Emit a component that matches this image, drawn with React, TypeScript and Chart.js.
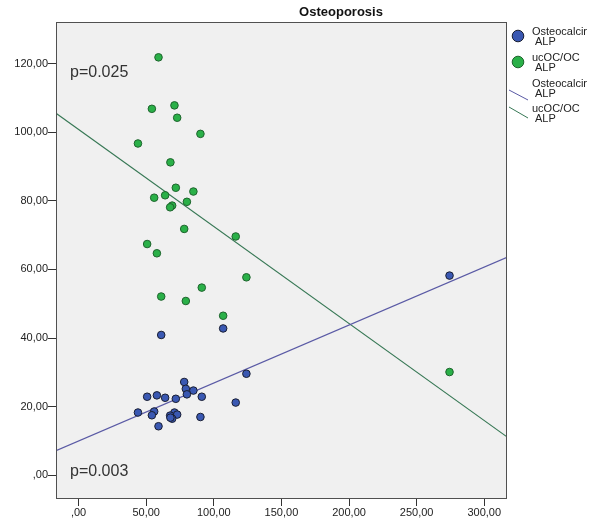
import React, { useEffect, useRef } from "react";
import { Chart, registerables } from "chart.js";

Chart.register(...registerables);

const TITLE = "Osteoporosis";
const P_TOP = "p=0.025";
const P_BOTTOM = "p=0.003";

const blueLabel = ["Osteocalcin", "ALP"];
const greenLabel = ["ucOC/OC", "ALP"];

const blueX = [61.1, 106.9, 124.1, 78.1, 79.3, 84.9, 80.1, 50.7, 57.9, 64.0, 71.9, 91.1, 116.2, 43.9, 55.9, 54.2, 70.9, 72.9, 67.7, 69.2, 90.1, 59.1, 274.3, 67.9];
const blueY = [40.9, 42.8, 29.6, 27.2, 25.2, 24.7, 23.6, 22.9, 23.3, 22.6, 22.3, 22.9, 21.2, 18.3, 18.6, 17.5, 18.3, 17.7, 17.4, 16.5, 17.0, 14.3, 58.2, 16.8];

const greenX = [59.1, 54.2, 70.9, 72.9, 90.1, 43.9, 67.9, 71.9, 84.9, 64.0, 55.9, 80.1, 69.2, 67.7, 78.1, 116.2, 50.7, 57.9, 124.1, 91.1, 61.1, 79.3, 106.9, 274.3];
const greenY = [121.8, 106.8, 107.8, 104.2, 99.5, 96.7, 91.2, 83.8, 82.7, 81.6, 80.9, 79.7, 78.6, 78.1, 71.8, 69.6, 67.4, 64.7, 57.7, 54.7, 52.1, 50.8, 46.5, 30.1];

const fitX = [-16.7, 316.8];
const blueFitY = [7.2, 63.5];
const greenFitY = [105.5, 11.2];

const xTicks = [0, 50, 100, 150, 200, 250, 300];
const yTicks = [0, 20, 40, 60, 80, 100, 120];

const X_MIN = -16.7;
const X_MAX = 316.8;
const Y_MIN = -6.9;
const Y_MAX = 132.1;

const BLUE = "rgb(58,88,178)";
const BLUE_EDGE = "rgb(25,30,50)";
const GREEN = "rgb(42,176,72)";
const GREEN_EDGE = "rgb(30,100,45)";
const BLUE_LINE = "rgb(90,90,165)";
const GREEN_LINE = "rgb(55,120,85)";
const FONT = "'Liberation Sans', Arial, sans-serif";

const fmt = (v: number) => (v === 0 ? ",00" : v.toFixed(2).replace(".", ","));

const zip = (xs: number[], ys: number[]) => xs.map((x, i) => ({ x, y: ys[i] }));

const decorPlugin = {
  id: "decor",
  beforeDraw(chart: any) {
    const { ctx, chartArea: a } = chart;
    ctx.save();
    ctx.fillStyle = "#ffffff";
    ctx.fillRect(0, 0, chart.width, chart.height);
    ctx.fillStyle = "#f0f0f0";
    ctx.fillRect(a.left, a.top, a.right - a.left, a.bottom - a.top);
    ctx.restore();
  },
  afterDraw(chart: any) {
    const { ctx, chartArea: a } = chart;
    ctx.save();
    ctx.strokeStyle = "#505050";
    ctx.lineWidth = 1;
    ctx.strokeRect(Math.round(a.left) + 0.5, Math.round(a.top) + 0.5, Math.round(a.right - a.left) - 1, Math.round(a.bottom - a.top) - 1);

    // title
    ctx.fillStyle = "#111";
    ctx.font = `bold 13px ${FONT}`;
    ctx.textAlign = "center";
    ctx.textBaseline = "middle";
    ctx.fillText(TITLE, 341, 12);

    // p values
    ctx.fillStyle = "#333";
    ctx.font = `16px ${FONT}`;
    ctx.textAlign = "left";
    ctx.fillText(P_TOP, 70, 73);
    ctx.fillText(P_BOTTOM, 70, 472);

    // legend
    ctx.beginPath();
    ctx.rect(a.right + 1, 0, 586 - a.right, chart.height);
    ctx.clip();
    ctx.font = `11px ${FONT}`;
    ctx.fillStyle = "#222";
    const circle = (x: number, y: number, fill: string, edge: string) => {
      ctx.beginPath();
      ctx.arc(x, y, 5.8, 0, Math.PI * 2);
      ctx.fillStyle = fill;
      ctx.fill();
      ctx.strokeStyle = edge;
      ctx.lineWidth = 1;
      ctx.stroke();
    };
    const label = (lines: string[], y: number) => {
      ctx.fillStyle = "#222";
      ctx.fillText(lines[0], 532, y);
      ctx.fillText(lines[1], 535, y + 10);
    };
    circle(518, 36, BLUE, BLUE_EDGE);
    label(blueLabel, 32);
    circle(518, 62, GREEN, GREEN_EDGE);
    label(greenLabel, 58);

    ctx.lineWidth = 1;
    ctx.strokeStyle = BLUE_LINE;
    ctx.beginPath();
    ctx.moveTo(509, 90);
    ctx.lineTo(528, 100);
    ctx.stroke();
    label(blueLabel, 84);

    ctx.strokeStyle = GREEN_LINE;
    ctx.beginPath();
    ctx.moveTo(509, 107);
    ctx.lineTo(528, 118);
    ctx.stroke();
    label(greenLabel, 109);
    ctx.restore();
  },
};

export default function App() {
  const ref = useRef<HTMLCanvasElement | null>(null);
  useEffect(() => {
    if (!ref.current) return;
    const chart = new Chart(ref.current, {
      type: "scatter",
      data: {
        datasets: [
          {
            type: "line",
            data: zip(fitX, blueFitY),
            borderColor: BLUE_LINE,
            borderWidth: 1.2,
            pointRadius: 0,
            fill: false,
            order: 3,
          } as any,
          {
            type: "line",
            data: zip(fitX, greenFitY),
            borderColor: GREEN_LINE,
            borderWidth: 1.2,
            pointRadius: 0,
            fill: false,
            order: 3,
          } as any,
          {
            data: zip(blueX, blueY),
            backgroundColor: BLUE,
            borderColor: BLUE_EDGE,
            borderWidth: 1,
            pointRadius: 3.8,
            order: 1,
          },
          {
            data: zip(greenX, greenY),
            backgroundColor: GREEN,
            borderColor: GREEN_EDGE,
            borderWidth: 1,
            pointRadius: 3.8,
            order: 2,
          },
        ],
      },
      options: {
        animation: false,
        responsive: false,
        devicePixelRatio: 1,
        layout: { padding: { left: 0, right: 83, top: 22, bottom: 0 } },
        plugins: {
          legend: { display: false },
          tooltip: { enabled: false },
          title: { display: false },
        },
        scales: {
          x: {
            type: "linear",
            min: X_MIN,
            max: X_MAX,
            afterBuildTicks: (s: any) => {
              s.ticks = xTicks.map((v) => ({ value: v }));
            },
            afterFit: (s: any) => {
              s.height = 22;
            },
            border: { display: false },
            grid: { drawOnChartArea: false, drawTicks: true, tickLength: 7, color: "#333", lineWidth: 1 },
            ticks: {
              callback: (v: any) => fmt(Number(v)),
              font: { family: FONT, size: 11 },
              color: "#222",
              padding: 0,
              maxRotation: 0,
              autoSkip: false,
            },
          },
          y: {
            type: "linear",
            min: Y_MIN,
            max: Y_MAX,
            afterBuildTicks: (s: any) => {
              s.ticks = yTicks.map((v) => ({ value: v }));
            },
            afterFit: (s: any) => {
              s.width = 56;
            },
            border: { display: false },
            grid: { drawOnChartArea: false, drawTicks: true, tickLength: 8, color: "#333", lineWidth: 1 },
            ticks: {
              callback: (v: any) => fmt(Number(v)),
              font: { family: FONT, size: 11 },
              color: "#222",
              padding: 0,
              autoSkip: false,
            },
          },
        },
      },
      plugins: [decorPlugin],
    });
    return () => chart.destroy();
  }, []);
  return (
    <div style={{ position: "absolute", left: 0, top: 0, width: 590, height: 521 }}>
      <canvas ref={ref} width={590} height={521} style={{ width: 590, height: 521 }} />
    </div>
  );
}
